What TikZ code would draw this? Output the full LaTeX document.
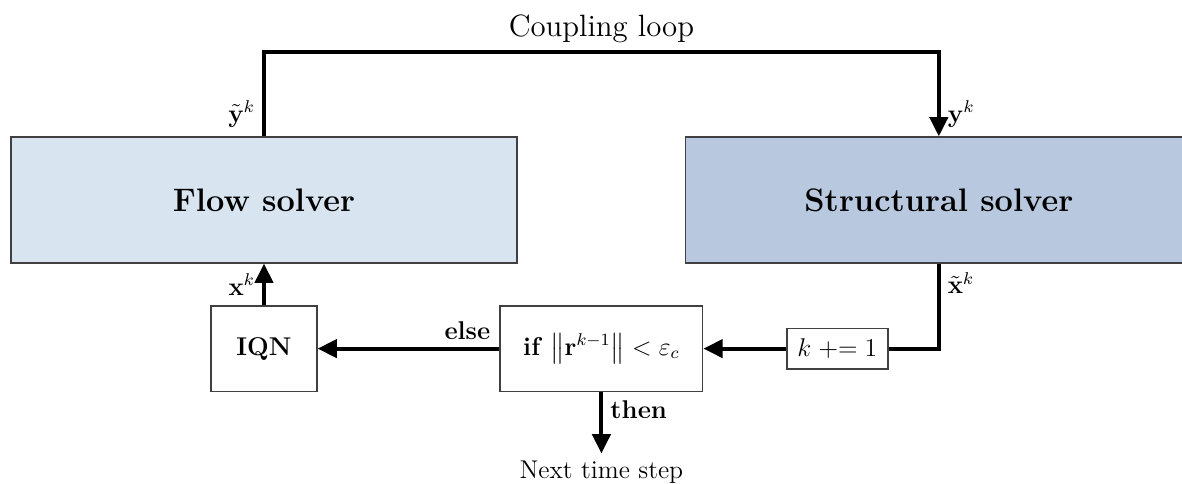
\documentclass[tikz,border=0pt]{standalone}
\usepackage{amsmath}
\usepackage{amssymb}
\usepackage{bm}
\usetikzlibrary{arrows.meta}
\usetikzlibrary{positioning}
\definecolor{flowcol}{HTML}{D8E4F0}
\definecolor{structcol}{HTML}{B8C9DF}

\begin{document}
\begin{tikzpicture}[node distance=2cm,on grid,font=\large,
    solver/.style={draw=black!75,line width=0.6pt,minimum width=8.31cm,minimum height=2.07cm,font=\fontsize{15.2}{18}\selectfont\bfseries},
    block/.style={draw=black!75,line width=0.6pt,fill=white,minimum height=1.40cm},
    link/.style={line width=1.8pt,-{Triangle[length=9pt,width=8.5pt]}}]
                \clip (-4.335,-4.647) rectangle (15.073,3.284);
                \node[solver,fill=flowcol] (flow) {Flow solver};
                \node[solver,fill=structcol] [right=11.08cm of flow] (struct) {Structural solver};
                \node[block,minimum width=1.74cm,font=\large\bfseries] [below=2.44cm of flow] (iqn) {IQN};
                \node[block,minimum width=3.33cm] [right=5.54cm of iqn] (cond) {\textbf{if} $\left\|\mathbf{r}^{k-1}\right\| < \varepsilon_c$};
                \node[block,minimum width=1.66cm,minimum height=0.67cm] [right=3.875cm of cond] (inc) {$k \mathrel{+}= 1$};
                \node [below=2.03cm of cond] (next) {Next time step};
                \coordinate [above=2.43cm of flow] (top_l);
                \coordinate [above=2.43cm of struct] (top_r);
                \coordinate (corner) at (struct.south |- inc);
                % coupling loop
                \draw[link] (flow.north) node[above left] {$\tilde{\mathbf{y}}^k$} -- (top_l)
                    -- node[above,font=\Large] {Coupling loop} (top_r)
                    -- (struct.north) node[above right] {$\mathbf{y}^k$};
                \draw[line width=1.8pt] (struct.south) node[below right] {$\tilde{\mathbf{x}}^k$} -- (corner) -- (inc.east);
                \path[link]
                (inc) edge (cond)
                (cond) edge node[pos=0,above left] {\textbf{else}} (iqn)
                (iqn) edge node[left] {$\mathbf{x}^k$} (flow)
                (cond) edge node[pos=0,below right] {\textbf{then}} (next);
             \end{tikzpicture}
\end{document}
